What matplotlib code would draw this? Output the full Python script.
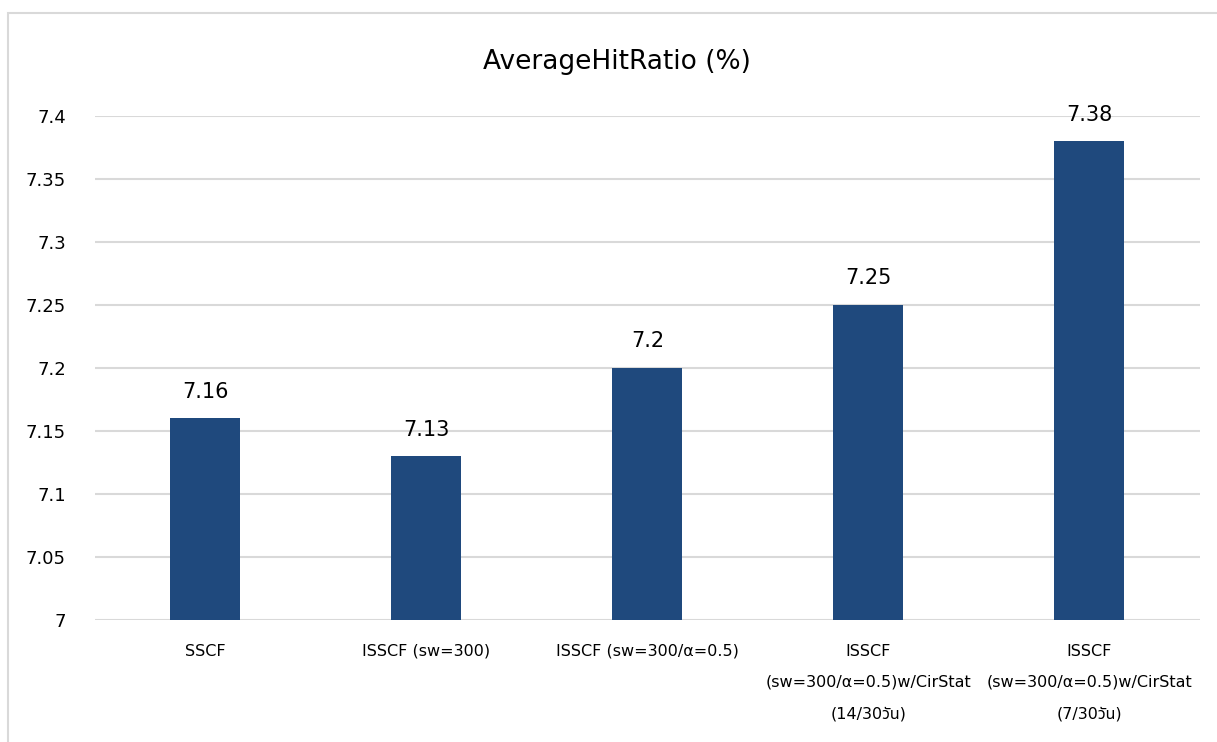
import matplotlib
matplotlib.use("Agg")
import matplotlib.pyplot as plt
from matplotlib.patches import Rectangle

plt.rcParams['font.family'] = ['DejaVu Sans', 'Noto Sans Thai', 'Noto Sans', 'Noto Sans CJK SC']

categories = [
    "SSCF",
    "ISSCF (sw=300)",
    "ISSCF (sw=300/α=0.5)",
    "ISSCF\n(sw=300/α=0.5)w/CirStat\n(14/30วัน)",
    "ISSCF\n(sw=300/α=0.5)w/CirStat\n(7/30วัน)",
]
values = [7.16, 7.13, 7.2, 7.25, 7.38]
value_labels = ["7.16", "7.13", "7.2", "7.25", "7.38"]
yticks = [7, 7.05, 7.1, 7.15, 7.2, 7.25, 7.3, 7.35, 7.4]
ytick_labels = ["7", "7.05", "7.1", "7.15", "7.2", "7.25", "7.3", "7.35", "7.4"]

bar_color = "#1f497d"
grid_color = "#d9d9d9"

fig = plt.figure(figsize=(12.17, 7.42), dpi=100)
ax = fig.add_axes([0.078, 0.1644, 0.908, 0.6793])

# chart area border
fig.patches.append(Rectangle((8 / 1217, -0.5), 1.5, 0.5 + (742 - 13) / 742,
                             transform=fig.transFigure, fill=False,
                             edgecolor=grid_color, linewidth=1.5))

x = range(len(categories))
ax.bar(x, values, width=0.317, color=bar_color, zorder=3)
for i, v in enumerate(values):
    ax.annotate(value_labels[i], (i, v), xytext=(0, 12), textcoords="offset points",
                ha="center", va="bottom", fontsize=15)

ax.set_xlim(-0.5, len(categories) - 0.5)
ax.set_ylim(7, 7.4)
ax.set_yticks(yticks)
ax.set_yticklabels(ytick_labels, fontsize=13)
ax.set_xticks(list(x))
ax.set_xticklabels(categories, fontsize=11.5, linespacing=2.35, va="top")
ax.tick_params(axis="both", length=0)
ax.tick_params(axis="x", pad=17)
ax.tick_params(axis="y", pad=21)

ax.grid(axis="y", color=grid_color, linewidth=1.5, zorder=0)
for s in ["top", "right", "left", "bottom"]:
    ax.spines[s].set_visible(False)

fig.text(617 / 1217, 1 - 62 / 742, "AverageHitRatio (%)", fontsize=19,
         ha="center", va="center")

fig.savefig("out.png", dpi=100)
